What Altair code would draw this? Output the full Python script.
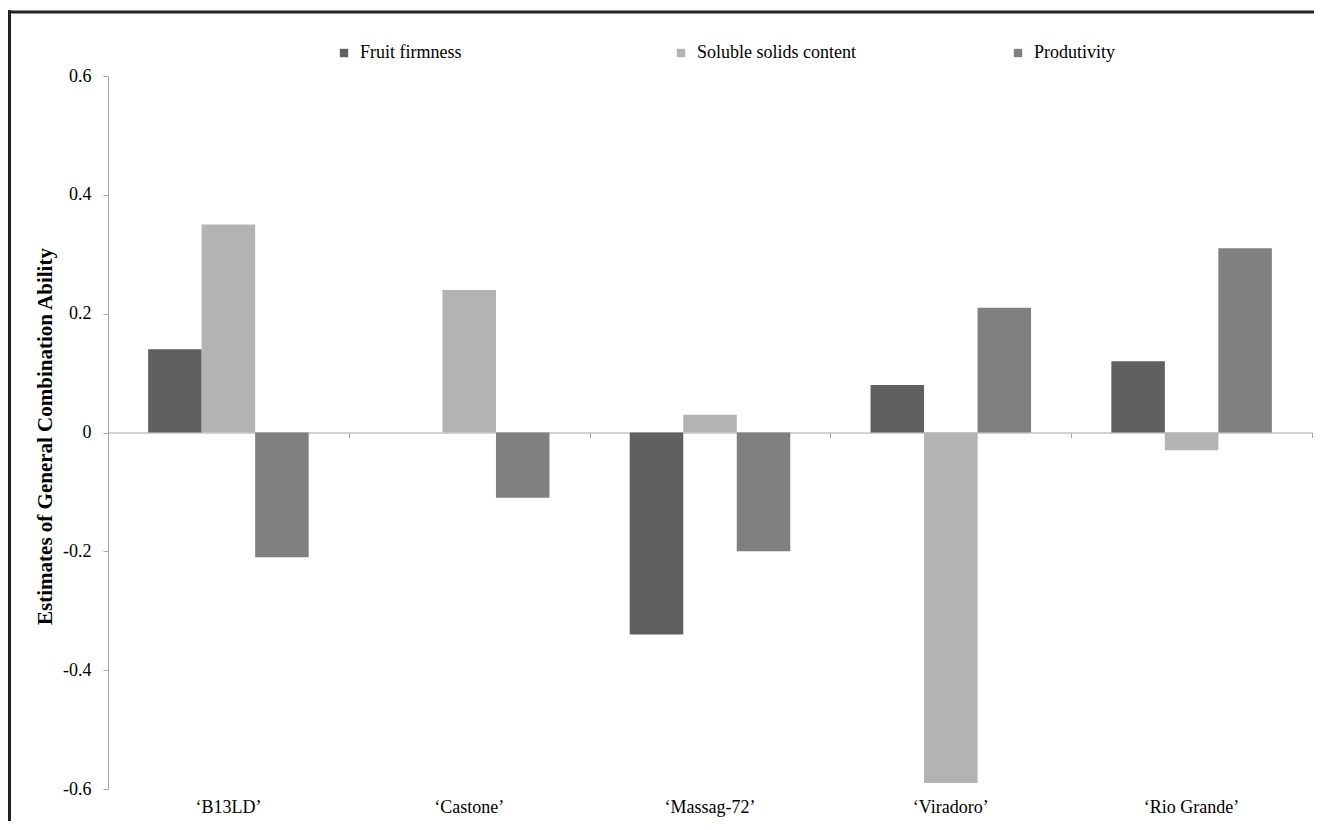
import altair as alt
import pandas as pd

categories = ["\u2018B13LD\u2019", "\u2018Castone\u2019", "\u2018Massag-72\u2019", "\u2018Viradoro\u2019", "\u2018Rio Grande\u2019"]
series = ["Fruit firmness", "Soluble solids content", "Produtivity"]
fruit_firmness = [0.14, 0.0, -0.34, 0.08, 0.12]
soluble_solids = [0.35, 0.24, 0.03, -0.59, -0.03]
produtivity = [-0.21, -0.11, -0.20, 0.21, 0.31]
y_ticks = [-0.6, -0.4, -0.2, 0, 0.2, 0.4, 0.6]
colors = ["#606060", "#b3b3b3", "#808080"]

rows = []
for s, vals in zip(series, [fruit_firmness, soluble_solids, produtivity]):
    for c, v in zip(categories, vals):
        rows.append({"Cultivar": c, "Trait": s, "Value": v})
df = pd.DataFrame(rows)

W, H = 1204, 713
FONT = "Liberation Serif"
GRAY = "#a6a6a6"

x_scale = alt.Scale(paddingInner=0, paddingOuter=0)

y_enc = alt.Y(
    "Value:Q",
    scale=alt.Scale(domain=[-0.6, 0.6], nice=False, zero=False),
    axis=alt.Axis(
        values=y_ticks,
        title="Estimates of General Combination Ability",
        labelExpr="datum.value == 0 ? '0' : (datum.value < 0 ? '-' : '') + format(abs(datum.value), '.1f')",
        grid=False,
        domainColor=GRAY,
        tickColor=GRAY,
        tickSize=5,
        labelPadding=12,
        labelFont=FONT,
        labelFontSize=18,
        labelColor="black",
        titleFont=FONT,
        titleFontSize=21,
        titleFontWeight="bold",
        titleColor="black",
        titleAngle=270,
        titleX=-57,
        titleY=360,
        titleAlign="center",
        titleBaseline="alphabetic",
    ),
)

bars = alt.Chart(df).mark_bar().encode(
    x=alt.X(
        "Cultivar:N",
        sort=categories,
        scale=x_scale,
        axis=alt.Axis(
            orient="bottom",
            domain=False,
            ticks=False,
            tickSize=0,
            labelPadding=9,
            labelAngle=0,
            labelFont=FONT,
            labelFontSize=18,
            labelColor="black",
            title=None,
        ),
    ),
    xOffset=alt.XOffset(
        "Trait:N", sort=series, scale=alt.Scale(paddingInner=0, paddingOuter=0.75)
    ),
    y=y_enc,
    color=alt.Color(
        "Trait:N",
        sort=series,
        scale=alt.Scale(domain=series, range=colors),
        legend=alt.Legend(
            orient="none",
            legendX=227,
            legendY=-32,
            direction="horizontal",
            columns=3,
            gridAlign="all",
            columnPadding=153,
            symbolType="square",
            symbolSize=70,
            symbolStrokeWidth=0,
            labelFont=FONT,
            labelFontSize=18,
            labelColor="black",
            labelOffset=7,
            labelLimit=300,
            title=None,
            padding=0,
        ),
    ),
)

zero_axis = alt.Chart(df).mark_bar(opacity=0).encode(
    x=alt.X(
        "Cultivar:N",
        sort=categories,
        scale=x_scale,
        axis=alt.Axis(
            orient="bottom",
            offset=-H / 2,
            labels=False,
            domain=True,
            ticks=True,
            tickBand="extent",
            tickSize=5,
            domainColor=GRAY,
            tickColor=GRAY,
            title=None,
        ),
    ),
    y=y_enc,
)

frame_left = alt.Chart(alt.Data(values=[{}])).mark_rule(color="#222222", strokeWidth=3).encode(
    x=alt.value(-98.5), y=alt.value(-66), y2=alt.value(H + 100)
)
frame_top = alt.Chart(alt.Data(values=[{}])).mark_rule(color="#222222", strokeWidth=3).encode(
    x=alt.value(-100), x2=alt.value(W + 100), y=alt.value(-64)
)

chart = (
    alt.layer(bars, zero_axis, frame_left, frame_top)
    .resolve_axis(x="independent")
    .properties(
        width=W,
        height=H,
        autosize=alt.AutoSizeParams(type="none"),
        padding={"left": 100, "top": 68, "right": 2, "bottom": 32},
        background="white",
    )
    .configure_view(strokeWidth=0)
)

chart.save("out.html", embed_options={"renderer": "svg", "actions": False})
